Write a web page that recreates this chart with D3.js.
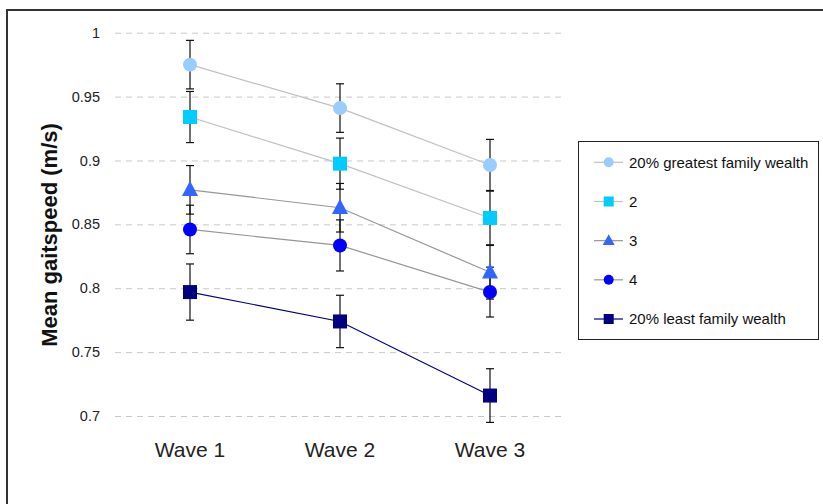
<!DOCTYPE html>
<html>
<head>
<meta charset="utf-8">
<script src="https://cdn.jsdelivr.net/npm/d3@7"></script>
<style>
  html, body { margin: 0; padding: 0; background: #fff; }
  svg { display: block; font-family: Arial, "Liberation Sans", sans-serif; }
</style>
</head>
<body>
<svg id="chart" width="823" height="504"></svg>
<script>
// Mean gait speed by family-wealth quintile across survey waves
const waves = ["Wave 1", "Wave 2", "Wave 3"];
const groups = ["20% greatest family wealth", "2", "3", "4", "20% least family wealth"];

const meanTop   = [0.975, 0.941, 0.8965];
const meanQ2    = [0.934, 0.8975, 0.855];
const meanQ3    = [0.877, 0.863, 0.8125];
const meanQ4    = [0.846, 0.8335, 0.797];
const meanLeast = [0.797, 0.774, 0.716];

const errTop   = [0.019, 0.019, 0.020];
const errQ2    = [0.020, 0.020, 0.021];
const errQ3    = [0.019, 0.019, 0.021];
const errQ4    = [0.019, 0.020, 0.0195];
const errLeast = [0.022, 0.0205, 0.021];

const yTicks = [0.7, 0.75, 0.8, 0.85, 0.9, 0.95, 1];
const yTickLabels = ["0.7", "0.75", "0.8", "0.85", "0.9", "0.95", "1"];

const series = [
  { name: groups[0], means: meanTop,   errs: errTop,   fill: "#99CCFF", line: "#C0C0C0", shape: "circle" },
  { name: groups[1], means: meanQ2,    errs: errQ2,    fill: "#00CCFF", line: "#C0C0C0", shape: "square" },
  { name: groups[2], means: meanQ3,    errs: errQ3,    fill: "#3366FF", line: "#969696", shape: "triangle" },
  { name: groups[3], means: meanQ4,    errs: errQ4,    fill: "#0000FF", line: "#969696", shape: "circle" },
  { name: groups[4], means: meanLeast, errs: errLeast, fill: "#000080", line: "#000080", shape: "square" }
];

const svg = d3.select("#chart");

// outer frame (left and top edges visible)
svg.append("path")
  .attr("d", "M7,504 L7,10 L823,10")
  .attr("fill", "none").attr("stroke", "#333").attr("stroke-width", 2);

const plot = { left: 115, right: 565, top: 32.7, bottom: 416 };

const x = d3.scalePoint().domain(waves).range([plot.left, plot.right]).padding(0.5);
const y = d3.scaleLinear().domain([0.7, 1]).range([plot.bottom, plot.top]);

// horizontal dashed grid + tick labels
const yAxis = d3.axisLeft(y)
  .tickValues(yTicks)
  .tickFormat((d, i) => yTickLabels[i])
  .tickSize(-(plot.right - plot.left))
  .tickPadding(15);
const ga = svg.append("g").attr("transform", `translate(${plot.left},0)`).call(yAxis);
ga.select(".domain").remove();
ga.selectAll(".tick line").attr("stroke", "#C8C8C8").attr("stroke-dasharray", "6,5");
ga.selectAll(".tick text")
  .attr("font-size", 14.5).attr("fill", "#222")
  .attr("font-family", "Arial, 'Liberation Sans', sans-serif");

// category labels
svg.append("g").selectAll("text").data(waves).join("text")
  .attr("x", d => x(d)).attr("y", 457)
  .attr("text-anchor", "middle")
  .attr("font-size", 21).attr("fill", "#222")
  .text(d => d);

// y axis title
svg.append("text")
  .attr("transform", "translate(57,235) rotate(-90)")
  .attr("text-anchor", "middle")
  .attr("font-size", 22).attr("font-weight", "bold").attr("fill", "#111")
  .text("Mean gaitspeed (m/s)");

svg.append("clipPath").attr("id", "plotClip")
  .append("rect").attr("x", plot.left - 20).attr("y", 20)
  .attr("width", plot.right - plot.left + 40).attr("height", 423 - 20);

const body = svg.append("g").attr("clip-path", "url(#plotClip)");

function drawMarker(g, shape, fill, s) {
  if (shape === "circle") {
    g.append("circle").attr("r", s / 2).attr("fill", fill);
  } else if (shape === "square") {
    g.append("rect").attr("x", -s / 2).attr("y", -s / 2)
      .attr("width", s).attr("height", s).attr("fill", fill);
  } else {
    const h = s * 1.05;
    g.append("path")
      .attr("d", `M0,${-h * 0.62} L${s / 2 + 1},${h * 0.42} L${-s / 2 - 1},${h * 0.42} Z`)
      .attr("fill", fill);
  }
}

// connecting lines
const line = d3.line().x((d, i) => x(waves[i])).y(d => y(d));
series.forEach(s => {
  body.append("path").datum(s.means)
    .attr("d", line).attr("fill", "none")
    .attr("stroke", s.line).attr("stroke-width", 1.2);
});

// error bars
series.forEach(s => {
  s.means.forEach((m, i) => {
    const cx = x(waves[i]);
    const y0 = y(m + s.errs[i]), y1 = y(m - s.errs[i]);
    const eg = body.append("g").attr("stroke", "#111").attr("stroke-width", 1.2);
    eg.append("line").attr("x1", cx).attr("x2", cx).attr("y1", y0).attr("y2", y1);
    eg.append("line").attr("x1", cx - 4).attr("x2", cx + 4).attr("y1", y0).attr("y2", y0);
    eg.append("line").attr("x1", cx - 4).attr("x2", cx + 4).attr("y1", y1).attr("y2", y1);
  });
});

// markers
series.forEach(s => {
  s.means.forEach((m, i) => {
    const g = body.append("g").attr("transform", `translate(${x(waves[i])},${y(m)})`);
    drawMarker(g, s.shape, s.fill, 14);
  });
});

// legend
const lg = svg.append("g");
lg.append("rect").attr("x", 578.5).attr("y", 141.5).attr("width", 240).attr("height", 198)
  .attr("fill", "#fff").attr("stroke", "#222").attr("stroke-width", 1);
const legendY = d3.scalePoint().domain(groups).range([162.3, 319]);
series.forEach(s => {
  const ly = legendY(s.name);
  lg.append("line").attr("x1", 594).attr("x2", 623).attr("y1", ly).attr("y2", ly)
    .attr("stroke", s.line).attr("stroke-width", 1.2);
  const mg = lg.append("g").attr("transform", `translate(608.7,${ly})`);
  drawMarker(mg, s.shape, s.fill, 10);
  lg.append("text").attr("x", 629).attr("y", ly).attr("dy", "0.36em")
    .attr("font-size", 15).attr("fill", "#111").text(s.name);
});
</script>
</body>
</html>
